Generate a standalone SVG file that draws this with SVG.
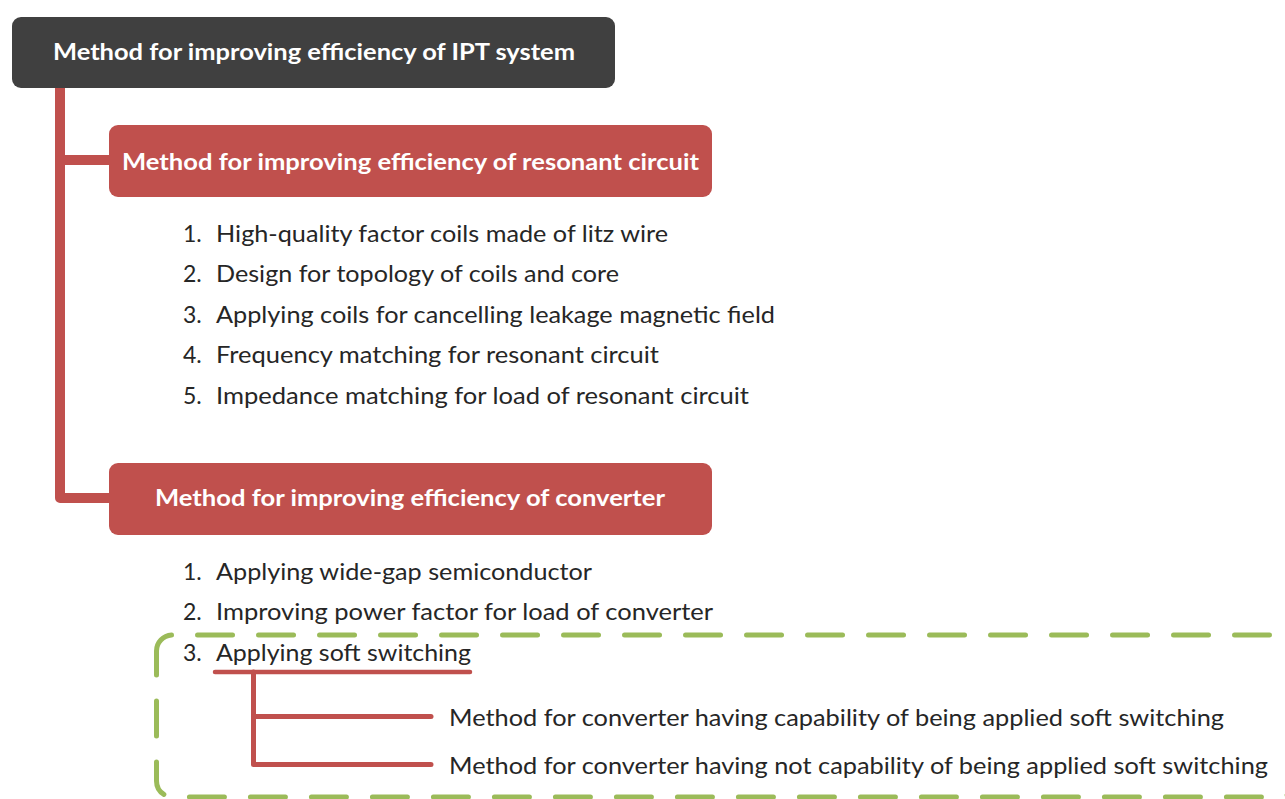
<svg xmlns="http://www.w3.org/2000/svg" width="1285" height="799" viewBox="0 0 1285 799">
<style>
.title{font-family:Lato,"Open Sans","Liberation Sans",sans-serif;font-weight:bold;font-size:23px;fill:#ffffff}
.item{font-family:Lato,"Open Sans","Liberation Sans",sans-serif;font-size:23px;fill:#262626}
.red{fill:none;stroke:#C0504D;stroke-linecap:round;stroke-linejoin:round}
</style>
<rect width="1285" height="799" fill="#ffffff"/>
<g id="connectors">
  <path class="red" d="M60,88 V498 H112" stroke-width="10" stroke-linecap="butt"/>
  <path class="red" d="M60,160 H112" stroke-width="10" stroke-linecap="butt"/>
  <path class="red" d="M215,672 H470" stroke-width="4.5"/>
  <path class="red" d="M253.5,672 V764.5 H431" stroke-width="5"/>
  <path class="red" d="M253.5,716.5 H431" stroke-width="5"/>
</g>
<g id="soft-switching-group">
  <path d="M156.5,662 V651 A16,16 0 0 1 172.5,635 H1280 A16,16 0 0 1 1296,651 V781 A16,16 0 0 1 1280,797 H172.5 A16,16 0 0 1 156.5,781 Z" fill="none" stroke="#9BBB59" stroke-width="5" stroke-linecap="round" stroke-dasharray="35 26"/>
</g>
<g id="root">
  <rect x="12" y="17" width="603" height="71" rx="9" fill="#404040"/>
  <text class="title" x="53" y="60" textLength="522" lengthAdjust="spacingAndGlyphs">Method for improving efficiency of IPT system</text>
</g>
<g id="resonant">
  <rect x="109" y="125" width="603" height="72" rx="9" fill="#C0504D"/>
  <text class="title" x="122" y="170" textLength="577" lengthAdjust="spacingAndGlyphs">Method for improving efficiency of resonant circuit</text>
</g>
<g id="resonant-list">
  <text class="item" x="183" y="242">1.</text><text class="item" x="216" y="242" textLength="452" lengthAdjust="spacingAndGlyphs">High-quality factor coils made of litz wire</text>
  <text class="item" x="183" y="282">2.</text><text class="item" x="216" y="282" textLength="403" lengthAdjust="spacingAndGlyphs">Design for topology of coils and core</text>
  <text class="item" x="183" y="323">3.</text><text class="item" x="216" y="323" textLength="559" lengthAdjust="spacingAndGlyphs">Applying coils for cancelling leakage magnetic field</text>
  <text class="item" x="183" y="363">4.</text><text class="item" x="216" y="363" textLength="443" lengthAdjust="spacingAndGlyphs">Frequency matching for resonant circuit</text>
  <text class="item" x="183" y="404">5.</text><text class="item" x="216" y="404" textLength="533" lengthAdjust="spacingAndGlyphs">Impedance matching for load of resonant circuit</text>
</g>
<g id="converter">
  <rect x="109" y="463" width="603" height="72" rx="9" fill="#C0504D"/>
  <text class="title" x="155" y="506" textLength="510" lengthAdjust="spacingAndGlyphs">Method for improving efficiency of converter</text>
</g>
<g id="converter-list">
  <text class="item" x="183" y="580">1.</text><text class="item" x="216" y="580" textLength="376" lengthAdjust="spacingAndGlyphs">Applying wide-gap semiconductor</text>
  <text class="item" x="183" y="620">2.</text><text class="item" x="216" y="620" textLength="497" lengthAdjust="spacingAndGlyphs">Improving power factor for load of converter</text>
  <text class="item" x="183" y="661">3.</text><text class="item" x="216" y="661" textLength="255" lengthAdjust="spacingAndGlyphs">Applying soft switching</text>
</g>
<g id="soft-capable">
  <text class="item" x="449" y="726" textLength="775" lengthAdjust="spacingAndGlyphs">Method for converter having capability of being applied soft switching</text>
</g>
<g id="soft-not-capable">
  <text class="item" x="449" y="774" textLength="819" lengthAdjust="spacingAndGlyphs">Method for converter having not capability of being applied soft switching</text>
</g>
</svg>
